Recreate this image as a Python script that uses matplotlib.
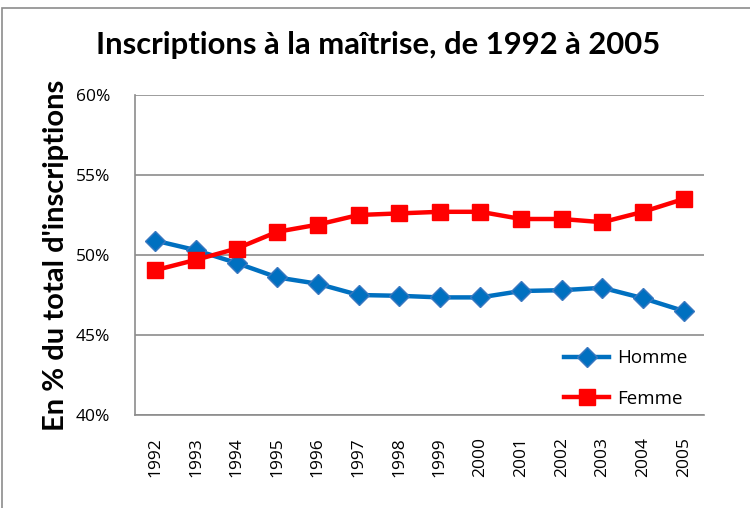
import matplotlib
matplotlib.use('Agg')
import matplotlib.pyplot as plt
from matplotlib.patches import Rectangle
from matplotlib.ticker import FuncFormatter

# Data
years = ['1992', '1993', '1994', '1995', '1996', '1997', '1998',
         '1999', '2000', '2001', '2002', '2003', '2004', '2005']
homme = [50.9, 50.3, 49.5, 48.6, 48.2, 47.5, 47.45,
         47.35, 47.35, 47.75, 47.8, 47.95, 47.3, 46.5]
femme = [49.05, 49.7, 50.4, 51.45, 51.9, 52.5, 52.6,
         52.7, 52.7, 52.25, 52.25, 52.05, 52.7, 53.5]
y_ticks = [40, 45, 50, 55, 60]

plt.rcParams['font.family'] = ['Lato', 'DejaVu Sans']

fig = plt.figure(figsize=(7.5, 5.08), dpi=100, facecolor='white')
ax = fig.add_axes([135 / 750, 1 - 415 / 508, 569 / 750, 320 / 508])

# outer chart border
fig.patches.append(Rectangle((2 / 750, -0.1), 1.2, 1.1 - 8 / 508,
                             transform=fig.transFigure, fill=False,
                             edgecolor='#8c8c8c', linewidth=1.2))

x = range(len(years))
ax.plot(x, homme, color='#0070C0', linewidth=3.2, marker='D', markersize=10,
        markeredgecolor='#3a78c0', markerfacecolor='#0070C0', label='Homme')
ax.plot(x, femme, color='#FF0000', linewidth=3.2, marker='s', markersize=11,
        markerfacecolor='#FF0000', markeredgecolor='#FF0000', label='Femme')

ax.set_xlim(-0.5, len(years) - 0.5)
ax.set_ylim(40, 60)
ax.set_yticks(y_ticks)
ax.yaxis.set_major_formatter(FuncFormatter(lambda v, p: f"{v:.0f}%"))
ax.set_xticks(list(x))
ax.set_xticklabels(years, rotation=90, fontsize=12.5, family='Open Sans')
for lbl in ax.get_yticklabels():
    lbl.set_family('Open Sans')
    lbl.set_fontsize(12.5)
ax.tick_params(length=0, pad=16)
ax.tick_params(axis='y', pad=18)

ax.set_axisbelow(True)
ax.yaxis.grid(True, color='#8c8c8c', linewidth=1.2)
for side in ['top', 'right']:
    ax.spines[side].set_visible(False)
for side in ['left', 'bottom']:
    ax.spines[side].set_color('#8c8c8c')
    ax.spines[side].set_linewidth(1.2)

fig.text(378 / 750, 1 - 45 / 508, "Inscriptions à la maîtrise, de 1992 à 2005",
         ha='center', va='center', fontsize=22.3, fontweight='bold')
fig.text(56 / 750, 1 - 255 / 508, "En % du total d'inscriptions",
         ha='center', va='center', rotation=90, fontsize=21, fontweight='bold')

ax.legend(loc='lower right', bbox_to_anchor=(1.0, -0.03), frameon=False,
          handlelength=2.4, labelspacing=1.2, handletextpad=0.4,
          prop={'family': 'Open Sans', 'size': 13.5})

fig.savefig('out.png', dpi=100, facecolor='white')
